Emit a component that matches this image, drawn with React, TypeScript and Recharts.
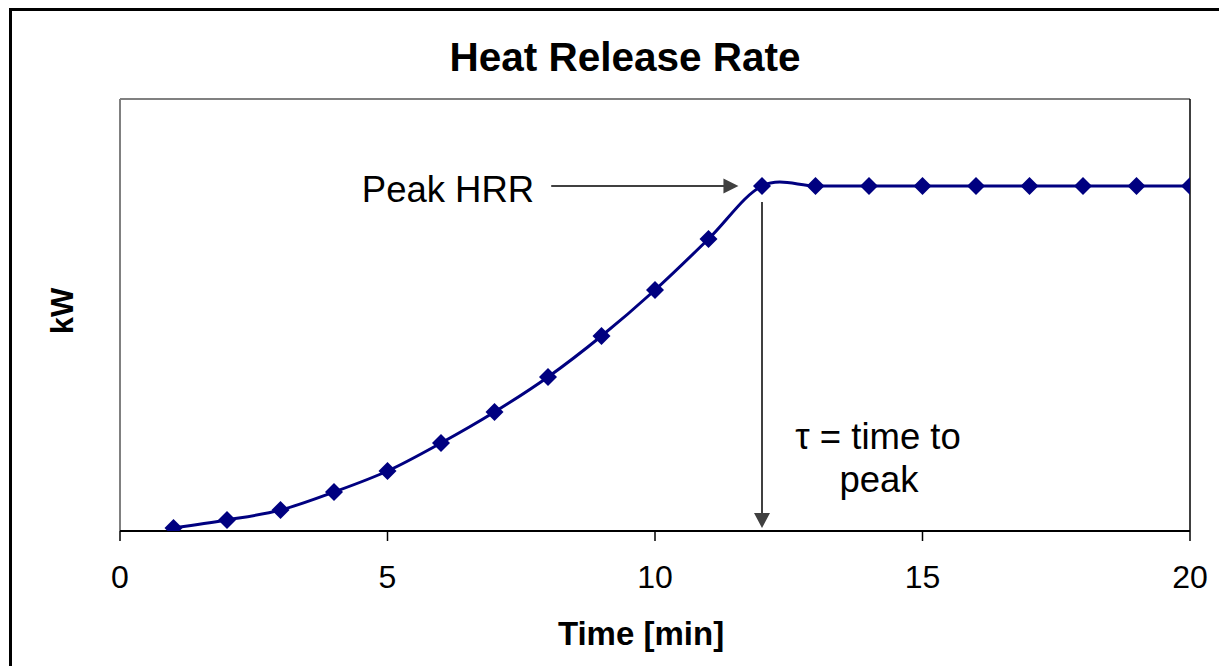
import React from "react";
import { LineChart, Line, XAxis, YAxis, ReferenceLine } from "recharts";

const times = [1, 2, 3, 4, 5, 6, 7, 8, 9, 10, 11, 12, 13, 14, 15, 16, 17, 18, 19, 20];
const hrr = [3, 11, 21, 39, 60, 88, 119, 154, 195, 241, 292, 345, 345, 345, 345, 345, 345, 345, 345, 345];
const xTicks = [0, 5, 10, 15, 20];
const yMax = 432;
const peakArrow = [{ x: 8.06, y: 345 }, { x: 11.56, y: 345 }];
const tauArrow = [{ x: 12, y: 329 }, { x: 12, y: 3 }];

const data = times.map((t, i) => ({ t, v: hrr[i] }));

const FONT = "'Liberation Sans', Arial, sans-serif";

// Excel-like smoothed line (Catmull-Rom style Bezier)
function excelCurve(context: any) {
  let pts: [number, number][] = [];
  return {
    areaStart() {},
    areaEnd() {},
    lineStart() {
      pts = [];
    },
    point(x: number, y: number) {
      pts.push([+x, +y]);
    },
    lineEnd() {
      if (!pts.length) return;
      context.moveTo(pts[0][0], pts[0][1]);
      for (let i = 0; i < pts.length - 1; i++) {
        const p0 = pts[i - 1] || pts[i];
        const p1 = pts[i];
        const p2 = pts[i + 1];
        const p3 = pts[i + 2] || pts[i + 1];
        const c1x = p1[0] + (p2[0] - p0[0]) / 6;
        const c1y = p1[1] + (p2[1] - p0[1]) / 6;
        const c2x = p2[0] - (p3[0] - p1[0]) / 6;
        const c2y = p2[1] - (p3[1] - p1[1]) / 6;
        context.bezierCurveTo(c1x, c1y, c2x, c2y, p2[0], p2[1]);
      }
    },
  };
}

const Diamond = (props: any) => {
  const { cx, cy, index } = props;
  if (cx == null || cy == null) return <g key={index} />;
  const r = 9;
  return (
    <polygon
      key={index}
      points={`${cx},${cy - r} ${cx + r},${cy} ${cx},${cy + r} ${cx - r},${cy}`}
      fill="#000080"
    />
  );
};

const arrowShape = (dir: "right" | "down") => (props: any) => {
  const { x1, y1, x2, y2 } = props;
  if (x1 == null) return <g />;
  const c = "#404040";
  const head = 15;
  if (dir === "right") {
    return (
      <g>
        <line x1={x1} y1={y1} x2={x2 - head + 1} y2={y2} stroke={c} strokeWidth={2} />
        <polygon points={`${x2},${y2} ${x2 - head},${y2 - 7.5} ${x2 - head},${y2 + 7.5}`} fill={c} />
      </g>
    );
  }
  return (
    <g>
      <line x1={x1} y1={y1} x2={x2} y2={y2 - head + 1} stroke={c} strokeWidth={2} />
      <polygon points={`${x2},${y2} ${x2 - 8},${y2 - head} ${x2 + 8},${y2 - head}`} fill={c} />
    </g>
  );
};

export default function App() {
  return (
    <div
      style={{
        position: "absolute",
        left: 0,
        top: 0,
        width: 1219,
        height: 666,
        overflow: "hidden",
        background: "#fff",
        fontFamily: FONT,
      }}
    >
      <div
        style={{
          position: "absolute",
          left: 9,
          top: 8,
          width: 1400,
          height: 900,
          border: "3px solid #000",
        }}
      />
      <div style={{ position: "absolute", left: 0, top: 0 }}>
        <LineChart
          width={1219}
          height={666}
          data={data}
          margin={{ top: 99, right: 29, bottom: 75, left: 120 }}
        >
          <XAxis
            dataKey="t"
            type="number"
            domain={[0, 20]}
            ticks={xTicks}
            tickSize={10}
            tickMargin={24}
            height={60}
            axisLine={{ stroke: "#000", strokeWidth: 2 }}
            tickLine={{ stroke: "#000", strokeWidth: 1.5 }}
            tick={{ fill: "#000", fontSize: 32, fontFamily: FONT }}
            allowDataOverflow
          />
          <YAxis hide width={0} domain={[0, yMax]} type="number" allowDataOverflow />
          <ReferenceLine y={yMax} stroke="#808080" strokeWidth={2} />
          <ReferenceLine x={0} stroke="#808080" strokeWidth={2} />
          <ReferenceLine x={20} stroke="#000" strokeWidth={1.5} />
          <ReferenceLine segment={peakArrow} shape={arrowShape("right")} />
          <ReferenceLine segment={tauArrow} shape={arrowShape("down")} />
          <Line
            dataKey="v"
            type={excelCurve as any}
            stroke="#000080"
            strokeWidth={3}
            dot={<Diamond />}
            activeDot={false}
            isAnimationActive={false}
          />
        </LineChart>
      </div>
      <svg
        width={1219}
        height={666}
        style={{ position: "absolute", left: 0, top: 0, pointerEvents: "none" }}
      >
        <text x={625} y={71} textAnchor="middle" fontSize={40.5} fontWeight="bold" fontFamily={FONT} fill="#000">
          Heat Release Rate
        </text>
        <text
          x={73}
          y={311}
          textAnchor="middle"
          fontSize={31}
          fontWeight="bold"
          fontFamily={FONT}
          fill="#000"
          transform="rotate(-90 73 311)"
        >
          kW
        </text>
        <text x={641} y={645} textAnchor="middle" fontSize={33} fontWeight="bold" fontFamily={FONT} fill="#000">
          Time [min]
        </text>
        <text x={448} y={202} textAnchor="middle" fontSize={36.5} fontFamily={FONT} fill="#000">
          Peak HRR
        </text>
        <text x={878} y={449} textAnchor="middle" fontSize={36.5} fontFamily={FONT} fill="#000">
          τ = time to
        </text>
        <text x={879} y={492} textAnchor="middle" fontSize={36.5} fontFamily={FONT} fill="#000">
          peak
        </text>
      </svg>
    </div>
  );
}
